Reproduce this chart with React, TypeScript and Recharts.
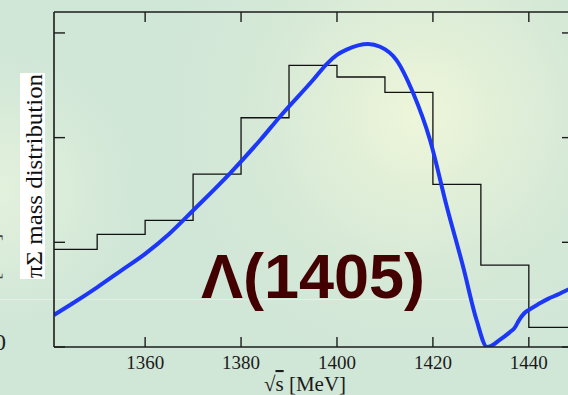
import React from "react"
import { LineChart, Line, XAxis, YAxis } from "recharts"

// histogram bins (left edges) and heights
const binEdges = [1340, 1350, 1360, 1370, 1380, 1390, 1400, 1410, 1420, 1430, 1440, 1450]
const binHeights = [0.933, 1.076, 1.21, 1.652, 2.19, 2.69, 2.579, 2.433, 1.554, 0.783, 0.188]

// theory curve, sampled by eye
const curveMass = [
  1341, 1345, 1350, 1355, 1360, 1365, 1370.1, 1377.7, 1384, 1388.1, 1395, 1398, 1400, 1402, 1406.5,
  1409, 1412.4, 1415.9, 1419.4, 1422.9, 1426.3, 1429.1, 1431.3, 1434, 1436, 1437, 1438, 1439,
  1440.2, 1442, 1444, 1446, 1448, 1450,
]
const curveValue = [
  0.306, 0.42, 0.57, 0.73, 0.89, 1.08, 1.309, 1.659, 1.977, 2.2, 2.55, 2.71, 2.79, 2.84, 2.894,
  2.868, 2.741, 2.423, 1.977, 1.34, 0.767, 0.258, 0.0, 0.07, 0.14, 0.18, 0.26, 0.32,
  0.36, 0.41, 0.46, 0.5, 0.545, 0.585,
]

const xTicks = [1360, 1380, 1400, 1420, 1440]
const yTicks = [0, 1, 2, 3]

const histData = binEdges.map((m, i) => ({ m, v: binHeights[Math.min(i, binHeights.length - 1)] }))
const curveData = curveMass.map((m, i) => ({ m, v: curveValue[i] }))

const AXIS = "#1c1c1c"
const SERIF = "'Liberation Serif', 'DejaVu Serif', serif"

function BottomTick({ x, y, payload }: any) {
  return (
    <g>
      <line x1={x} y1={y} x2={x} y2={y - 10} stroke={AXIS} strokeWidth={1.4} />
      <text x={x} y={y + 22} textAnchor="middle" fontSize={19} fontFamily={SERIF} fill="#1a1a1a">
        {payload.value}
      </text>
    </g>
  )
}
function TopTick({ x, y }: any) {
  return <line x1={x} y1={y} x2={x} y2={y + 10} stroke={AXIS} strokeWidth={1.4} />
}
function LeftTick({ x, y }: any) {
  return <line x1={x} y1={y} x2={x + 11} y2={y} stroke={AXIS} strokeWidth={1.4} />
}
function RightTick({ x, y }: any) {
  return <line x1={x} y1={y} x2={x - 10} y2={y} stroke={AXIS} strokeWidth={1.4} />
}

export default function App() {
  return (
    <div
      style={{
        position: "fixed",
        left: 0,
        top: 0,
        width: 568,
        height: 395,
        overflow: "hidden",
        background:
          "radial-gradient(circle at 420px 115px, #eef6da 0px, #e3f0d8 70px, #d6e9d7 160px, rgba(208,230,216,0) 260px), radial-gradient(circle at 0px 190px, #e3f1dc 0px, rgba(208,230,216,0) 140px), #d0e6d7",
      }}
    >
      <div style={{ position: "absolute", left: 0, top: 299, width: 568, height: 1, background: "rgba(255,255,255,0.35)" }} />
      <LineChart
        width={600}
        height={395}
        margin={{ top: 0, right: 0, bottom: 0, left: 0 }}
        style={{ position: "absolute", left: 0, top: 0 }}
      >
        <XAxis
          dataKey="m"
          type="number"
          domain={[1341, 1449]}
          allowDataOverflow
          ticks={xTicks}
          height={48}
          tickSize={0}
          tickMargin={0}
          tickLine={false}
          tick={<BottomTick />}
          axisLine={{ stroke: AXIS, strokeWidth: 1.6 }}
        />
        <XAxis
          xAxisId="top"
          orientation="top"
          dataKey="m"
          type="number"
          domain={[1341, 1449]}
          allowDataOverflow
          ticks={xTicks}
          height={12}
          tickSize={0}
          tickMargin={0}
          tickLine={false}
          tick={<TopTick />}
          axisLine={{ stroke: AXIS, strokeWidth: 1.4 }}
        />
        <YAxis
          type="number"
          domain={[0, 3.2]}
          allowDataOverflow
          ticks={yTicks}
          width={54}
          tickSize={0}
          tickMargin={0}
          tickLine={false}
          tick={<LeftTick />}
          axisLine={{ stroke: AXIS, strokeWidth: 1.6 }}
        />
        <YAxis
          yAxisId="right"
          orientation="right"
          type="number"
          domain={[0, 3.2]}
          allowDataOverflow
          ticks={yTicks}
          width={28}
          tickSize={0}
          tickMargin={0}
          tickLine={false}
          tick={<RightTick />}
          axisLine={{ stroke: AXIS, strokeWidth: 1.6 }}
        />
        <Line
          data={histData}
          dataKey="v"
          type="stepAfter"
          stroke="#111"
          strokeWidth={1.3}
          dot={false}
          isAnimationActive={false}
        />
        <Line
          data={curveData}
          dataKey="v"
          type="monotone"
          stroke="#1c38f6"
          strokeWidth={4}
          dot={false}
          isAnimationActive={false}
        />
        <text
          x={313}
          y={298}
          textAnchor="middle"
          fontFamily="'Liberation Sans', Arial, sans-serif"
          fontWeight="bold"
          fontSize={63}
          fill="#430000"
        >
          Λ(1405)
        </text>
        <text x={305} y={391} textAnchor="middle" fontSize={21} fontFamily={SERIF} fill="#1a1a1a">
          √<tspan style={{ textDecoration: "overline" }}>s</tspan> [MeV]
        </text>
        <rect x={20} y={73} width={25} height={206} fill="#ffffff" />
        <text
          transform="translate(42,176) rotate(-90)"
          textAnchor="middle"
          fontSize={24}
          fontFamily={SERIF}
          fill="#111"
          textLength={204}
          lengthAdjust="spacingAndGlyphs"
        >
          πΣ mass distribution
        </text>
        <text x={-6} y={350} fontSize={24} fontFamily={SERIF} fill="#222">
          0
        </text>
        <text transform="translate(-1,280) rotate(-90)" fontSize={22} fontFamily={SERIF} fill="#444">
          [a.u.]
        </text>
      </LineChart>
    </div>
  )
}
